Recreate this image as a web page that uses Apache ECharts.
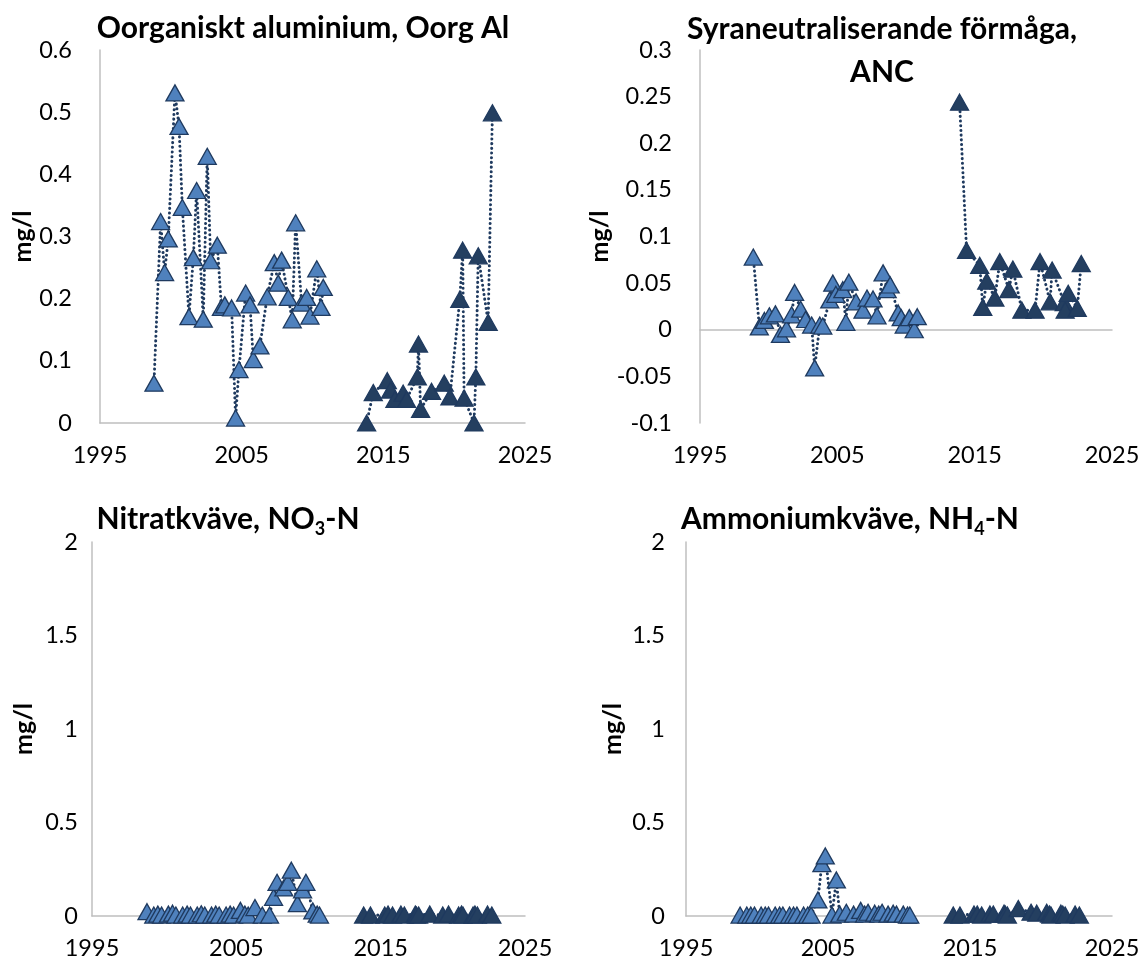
<!DOCTYPE html>
<html><head><meta charset="utf-8">
<script src="https://cdn.jsdelivr.net/npm/echarts@6/dist/echarts.min.js"></script>
<style>html,body{margin:0;padding:0;background:#fff}#c{width:1144px;height:962px}</style>
</head><body><div id="c"></div>
<script>
// Sampling dates (decimal years), period 1 and period 2
const datesA = [1998.81,1999.28,1999.56,1999.82,2000.29,2000.58,2000.81,2001.28,2001.59,2001.82,2002.29,2002.57,2002.81,2003.28,2003.57,2003.81,2004.29,2004.57,2004.81,2005.28,2005.59,2005.82,2006.29,2006.8,2007.3,2007.58,2007.82,2008.29,2008.57,2008.81,2009.23,2009.59,2009.82,2010.3,2010.6,2010.76];
const datesB = [2013.82,2014.29,2015.28,2015.51,2015.82,2016.4,2016.64,2017.4,2017.48,2017.63,2018.4,2019.3,2019.7,2020.4,2020.6,2020.7,2021.4,2021.53,2021.7,2022.4,2022.7];

// Oorganiskt aluminium (mg/l)
const oorgA = [0.064,0.324,0.242,0.296,0.531,0.477,0.347,0.171,0.266,0.374,0.167,0.429,0.261,0.286,0.186,0.19,0.185,0.008,0.086,0.209,0.19,0.102,0.124,0.203,0.258,0.225,0.262,0.202,0.166,0.322,0.193,0.202,0.172,0.248,0.186,0.218];
const oorgB = [0,0.049,0.068,0.053,0.038,0.048,0.038,0.074,0.127,0.022,0.051,0.064,0.042,0.199,0.278,0.04,0,0.074,0.269,0.162,0.499];

// ANC (mg/l)
const ancDatesA = [1998.88,1999.32,1999.69,2000.05,2000.49,2000.86,2001.30,2001.67,2001.89,2002.33,2002.69,2003.13,2003.35,2003.72,2003.94,2004.45,2004.67,2004.89,2005.40,2005.62,2005.84,2006.36,2006.87,2007.16,2007.60,2007.89,2008.33,2008.63,2008.85,2009.43,2009.65,2009.87,2010.24,2010.60,2010.82];
const ancA = [0.078,0.003,0.01,0.015,0.017,-0.005,0.001,0.016,0.04,0.022,0.011,0.005,-0.041,0.005,0.004,0.032,0.05,0.038,0.043,0.008,0.051,0.03,0.021,0.034,0.033,0.015,0.061,0.043,0.048,0.018,0.013,0.005,0.013,0.0,0.014];
const ancDatesB = [2013.90,2014.41,2015.37,2015.59,2015.88,2016.47,2016.83,2017.49,2017.78,2018.44,2019.40,2019.76,2020.49,2020.64,2021.52,2021.59,2021.81,2022.47,2022.76];
const ancB = [0.244,0.085,0.069,0.024,0.052,0.034,0.073,0.043,0.065,0.021,0.021,0.073,0.030,0.064,0.029,0.021,0.039,0.023,0.071];

// Nitratkväve NO3-N (mg/l)
const no3A = [0.023,0.005,0.01,0.005,0.01,0.015,0.005,0.005,0.01,0.005,0.005,0.012,0.005,0.005,0.01,0.005,0.005,0.01,0.005,0.03,0.01,0.005,0.045,0.005,0.005,0.1,0.18,0.15,0.18,0.245,0.066,0.14,0.18,0.027,0.01,0.005];
const no3B = [0.005,0.005,0.005,0.01,0.005,0.01,0.005,0.01,0.005,0.005,0.01,0.005,0.01,0.005,0.01,0.005,0.005,0.01,0.005,0.01,0.005];

// Ammoniumkväve NH4-N (mg/l)
const nh4A = [0.005,0.005,0.005,0.005,0.005,0.005,0.005,0.005,0.005,0.005,0.005,0.005,0.005,0.005,0.005,0.005,0.086,0.28,0.321,0.005,0.193,0.01,0.02,0.01,0.03,0.01,0.02,0.015,0.01,0.02,0.01,0.015,0.01,0.01,0.005,0.005];
const nh4B = [0.005,0.005,0.01,0.01,0.005,0.01,0.01,0.015,0.01,0.005,0.04,0.02,0.015,0.02,0.01,0.005,0.015,0.01,0.005,0.01,0.005];

const xMin = 1995, xMax = 2025, xStep = 10;
const yUnit = 'mg/l';

const FONT = 'Lato';
const lightFill = '#4f81bd', darkFill = '#243f60', edge = '#1f3a5f';

const zip = (xs, ys) => xs.map((x, i) => [x, ys[i]]);

const grids = [
  {left: 100, right: 619, top: 50, bottom: 539},
  {left: 700, right: 32, top: 50, bottom: 539},
  {left: 92, right: 619, top: 542, bottom: 46},
  {left: 686, right: 32, top: 542, bottom: 46}
];
const yCfg = [
  {min: 0, max: 0.6, interval: 0.1, margin: 28, gap: 65},
  {min: -0.1, max: 0.3, interval: 0.05, margin: 28, gap: 75},
  {min: 0, max: 2, interval: 0.5, margin: 14, gap: 56},
  {min: 0, max: 2, interval: 0.5, margin: 21, gap: 61}
];

const axisLineStyle = {color: '#bfbfbf', width: 1.5};
const labelStyle = {color: '#000', fontSize: 23.5, fontFamily: FONT};

const xAxes = grids.map((g, i) => ({
  type: 'value', gridIndex: i, min: xMin, max: xMax, interval: xStep,
  axisLine: {show: i !== 1, onZero: false, lineStyle: axisLineStyle},
  axisTick: {show: false}, splitLine: {show: false},
  axisLabel: Object.assign({margin: 20, formatter: v => String(v)}, labelStyle)
}));
// zero line for ANC chart
xAxes.push({
  type: 'value', gridIndex: 1, min: xMin, max: xMax, interval: xStep,
  axisLine: {show: true, onZero: true, lineStyle: axisLineStyle},
  axisTick: {show: false}, splitLine: {show: false}, axisLabel: {show: false}
});

const yAxes = yCfg.map((c, i) => ({
  type: 'value', gridIndex: i, min: c.min, max: c.max, interval: c.interval,
  axisLine: {show: true, onZero: false, lineStyle: axisLineStyle},
  axisTick: {show: false}, splitLine: {show: false},
  axisLabel: Object.assign({margin: c.margin}, labelStyle),
  name: yUnit, nameLocation: 'middle', nameRotate: 90, nameGap: c.gap,
  nameTextStyle: {color: '#000', fontSize: 25, fontWeight: 'bold', fontFamily: FONT}
}));

function mk(i, data, fill) {
  return {
    type: 'line', xAxisIndex: i, yAxisIndex: i, data: data,
    symbol: 'triangle', symbolSize: [18, 16], showAllSymbol: true, clip: false,
    itemStyle: {color: fill, borderColor: edge, borderWidth: 1.3},
    lineStyle: {color: edge, width: 3, type: [0.1, 4.6], cap: 'round'},
    emphasis: {disabled: true}, animation: false
  };
}

const series = [
  mk(0, zip(datesA, oorgA), lightFill), mk(0, zip(datesB, oorgB), darkFill),
  mk(1, zip(ancDatesA, ancA), lightFill), mk(1, zip(ancDatesB, ancB), darkFill),
  mk(2, zip(datesA, no3A), lightFill), mk(2, zip(datesB, no3B), darkFill),
  mk(3, zip(datesA, nh4A), lightFill), mk(3, zip(datesB, nh4B), darkFill)
];

const titleFont = {fontSize: 30, fontWeight: 'bold', fontFamily: FONT, fill: '#000'};
const subRich = {s: {fontSize: 18, fontWeight: 'bold', fontFamily: FONT, padding: [20, 0, 0, 0]}};
function title(text, x, y, rich) {
  return {type: 'text', x: x, y: y, silent: true,
    style: Object.assign({text: text, align: 'center', verticalAlign: 'middle', rich: rich || {}}, titleFont)};
}

const chart = echarts.init(document.getElementById('c'), null, {renderer: 'canvas'});
chart.setOption({
  backgroundColor: '#fff',
  animation: false,
  grid: grids,
  xAxis: xAxes,
  yAxis: yAxes,
  series: series,
  graphic: [
    title('Oorganiskt aluminium, Oorg Al', 303, 28),
    title('Syraneutraliserande förmåga,', 882, 29),
    title('ANC', 882, 72),
    title('Nitratkväve, NO{s|3}-N', 228, 519, subRich),
    title('Ammoniumkväve, NH{s|4}-N', 850, 519, subRich)
  ]
});
</script></body></html>
